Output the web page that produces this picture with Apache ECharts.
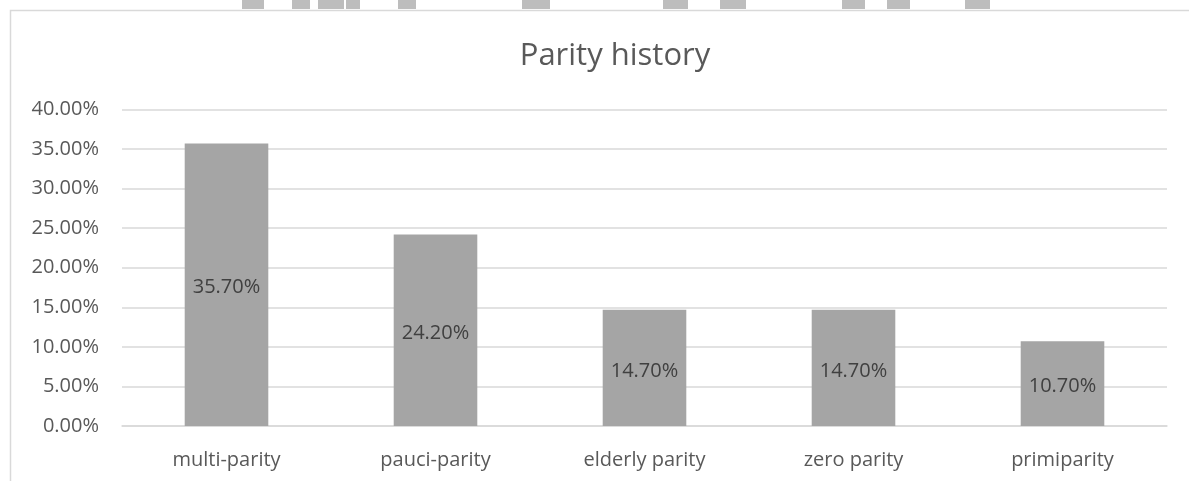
<!DOCTYPE html>
<html>
<head>
<meta charset="utf-8">
<title>Parity history</title>
<script src="https://cdn.jsdelivr.net/npm/echarts@6/dist/echarts.min.js"></script>
<style>
  html, body { margin: 0; padding: 0; background: #ffffff; }
  #chart { width: 1189px; height: 481px; }
</style>
</head>
<body>
<div id="chart"></div>
<script>
// Parity groups and their share of cases (percent)
const categories = ['multi-parity', 'pauci-parity', 'elderly parity', 'zero parity', 'primiparity'];
const shares = [35.7, 24.2, 14.7, 14.7, 10.7];

// Value axis range and step (percent)
const axisMin = 0;
const axisMax = 40;
const axisStep = 5;

const FONT = '"Open Sans", "Noto Sans", sans-serif';
const TEXT = '#595959';

// Faint grey strokes peeking above the chart frame: [x, width]
const topMarks = [
  [242, 22], [292, 18], [318, 26], [346, 14], [398, 18],
  [522, 28], [663, 25], [720, 26], [842, 23], [887, 23], [965, 25]
];

const chart = echarts.init(document.getElementById('chart'), null, { renderer: 'canvas' });

chart.setOption({
  backgroundColor: '#ffffff',
  animation: false,
  title: {
    text: 'Parity history',
    left: 610,
    textAlign: 'center',
    top: 36,
    textStyle: { fontFamily: FONT, fontSize: 31, fontWeight: 'normal', color: TEXT }
  },
  graphic: [
    {
      type: 'rect',
      shape: { x: 10.5, y: 10.5, width: 1300, height: 600 },
      style: { fill: 'none', stroke: '#D9D9D9', lineWidth: 1.5 },
      silent: true,
      z: 0
    }
  ].concat(topMarks.map(m => ({
    type: 'rect',
    shape: { x: m[0], y: 0, width: m[1], height: 9 },
    style: { fill: '#BDBDBD' },
    silent: true,
    z: 0
  }))),
  grid: { left: 122, right: 22, top: 109.5, bottom: 55, containLabel: false },
  xAxis: {
    type: 'category',
    data: categories,
    axisLine: { show: true, lineStyle: { color: '#D9D9D9', width: 1.5 } },
    axisTick: { show: false },
    axisLabel: { color: TEXT, fontFamily: FONT, fontSize: 20, margin: 24 }
  },
  yAxis: {
    type: 'value',
    min: axisMin,
    max: axisMax,
    interval: axisStep,
    axisLine: { show: false },
    axisTick: { show: false },
    splitLine: { lineStyle: { color: '#D9D9D9', width: 1.5 } },
    axisLabel: {
      color: TEXT,
      fontFamily: FONT,
      fontSize: 20,
      margin: 23,
      formatter: v => v.toFixed(2) + '%'
    }
  },
  series: [{
    type: 'bar',
    data: shares,
    barWidth: '40%',
    itemStyle: { color: '#A5A5A5' },
    label: {
      show: true,
      position: 'inside',
      offset: [0, 3],
      color: '#404040',
      fontFamily: FONT,
      fontSize: 20,
      formatter: p => p.value.toFixed(2) + '%'
    }
  }]
});
</script>
</body>
</html>
